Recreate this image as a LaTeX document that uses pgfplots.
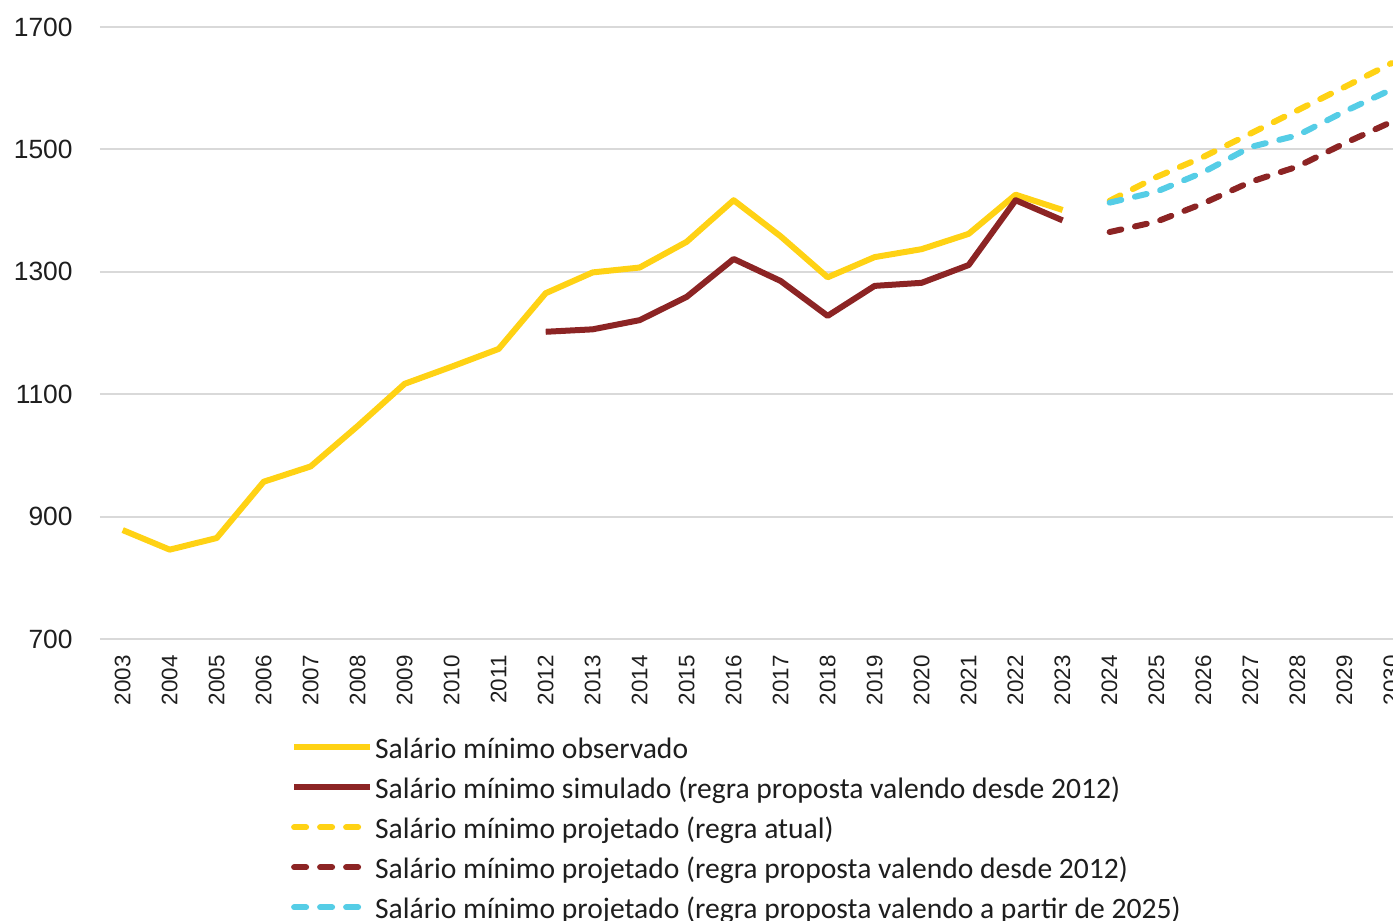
\documentclass[border=0pt]{standalone}
\usepackage{pgfplots}
\pgfplotsset{compat=1.18}
\usepackage{fontspec}
\setmainfont{Carlito}
\newfontfamily\tickfont{Liberation Sans}
\definecolor{cyel}{RGB}{255,210,20}
\definecolor{cbrn}{RGB}{140,36,36}
\definecolor{ccyn}{RGB}{85,205,230}
\definecolor{cgrid}{RGB}{217,217,217}
\definecolor{ctxt}{RGB}{30,30,30}
\begin{document}
\begin{tikzpicture}
\path[use as bounding box] (0,0) rectangle (696.5pt,-460.5pt);
\begin{axis}[
  at={(50pt,-13.5pt)}, anchor=north west,
  scale only axis, width=646.5pt, height=306pt,
  xmin=2002.517, xmax=2030.03, ymin=700, ymax=1700,
  xtick={2003,...,2030}, ytick={700,900,...,1700},
  ymajorgrids, major grid style={cgrid, line width=1pt},
  axis line style={draw=none}, major tick style={draw=none},
  /pgf/number format/assume math mode=true,
  /pgf/number format/1000 sep={},
  yticklabel style={font=\tickfont\fontsize{13.2}{16}\selectfont, text=ctxt, anchor=east, inner sep=0pt},
  yticklabel shift=13.5pt,
  xticklabel style={font=\tickfont\fontsize{11.2}{14}\selectfont, text=ctxt, rotate=90, anchor=east, inner sep=0pt},
  xticklabel shift=8pt,
  legend style={at={(0.1475,-0.155)}, anchor=north west, draw=none, fill=none,
    font=\fontsize{14.8}{17}\selectfont, text=ctxt, row sep=3pt, inner sep=0pt,
    cells={anchor=west}, nodes={inner sep=1pt, text height=11pt, text depth=4pt}},
  legend image code/.code={\draw[#1] (0pt,2pt) -- (38pt,2pt);},
  every axis plot/.append style={line width=3pt, line join=round},
]
\addplot[cyel] coordinates {
(2003,878) (2004,846) (2005,865) (2006,957) (2007,982) (2008,1048) (2009,1117)
(2010,1145) (2011,1174) (2012,1265) (2013,1299) (2014,1307) (2015,1349)
(2016,1417) (2017,1358) (2018,1291) (2019,1324) (2020,1337) (2021,1362)
(2022,1426) (2023,1401)};
\addlegendentry{Salário mínimo observado}
\addplot[cbrn] coordinates {
(2012,1202) (2013,1206) (2014,1221) (2015,1259) (2016,1321) (2017,1285)
(2018,1228) (2019,1277) (2020,1282) (2021,1311) (2022,1417) (2023,1384)};
\addlegendentry{Salário mínimo simulado (regra proposta valendo desde 2012)}
\addplot[cyel, line cap=round, dash pattern=on 6pt off 7pt] coordinates {
(2024,1416) (2025,1455) (2026,1488) (2027,1526) (2028,1564) (2029,1602) (2030,1641)};
\addlegendentry{Salário mínimo projetado (regra atual)}
\addplot[cbrn, line cap=round, dash pattern=on 6pt off 7pt] coordinates {
(2024,1365) (2025,1382) (2026,1412) (2027,1447) (2028,1472) (2029,1510) (2030,1545)};
\addlegendentry{Salário mínimo projetado (regra proposta valendo desde 2012)}
\addplot[ccyn, line cap=round, dash pattern=on 6pt off 7pt] coordinates {
(2024,1413) (2025,1431) (2026,1463) (2027,1504) (2028,1523) (2029,1562) (2030,1598)};
\addlegendentry{Salário mínimo projetado (regra proposta valendo a partir de 2025)}
\end{axis}
\end{tikzpicture}
\end{document}
